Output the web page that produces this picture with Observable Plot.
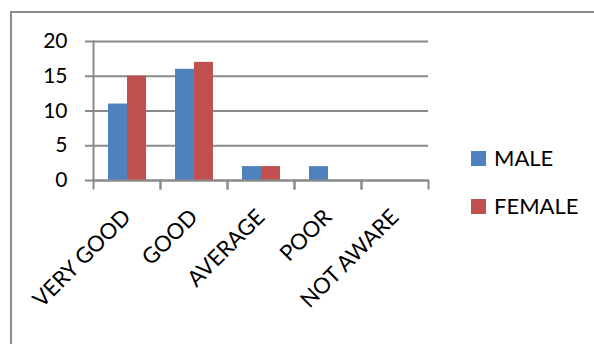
<!DOCTYPE html>
<html><head><meta charset="utf-8">
<script src="https://cdn.jsdelivr.net/npm/d3@7"></script>
<script src="https://cdn.jsdelivr.net/npm/@observablehq/plot@0.6"></script>
<style>
body{margin:0;background:#fff;}
#wrap{position:relative;width:594px;height:344px;overflow:hidden;font-family:Lato, sans-serif;}
#border{position:absolute;left:10px;top:11px;width:700px;height:500px;border-top:2px solid #8c8c8c;border-left:2px solid #8c8c8c;}
#chart{position:absolute;left:0;top:0;}
#legend{position:absolute;left:471px;top:0;}
.item{position:absolute;left:0;white-space:nowrap;display:flex;align-items:center;}
.sw{width:15px;height:15px;display:inline-block;margin-right:8px;}
.lab{font-size:22px;color:#000;line-height:22px;}
</style></head><body><div id="wrap"><div id="border"></div><div id="chart"></div><div id="legend"></div></div>
<script>
const categories = ["VERY GOOD","GOOD","AVERAGE","POOR","NOT AWARE"];
const series = ["MALE","FEMALE"];
const male = [11,16,2,2,0];
const female = [15,17,2,0,0];
const yTicks = [0,5,10,15,20];
const colors = ["#4F81BD","#C0504D"];

const data = categories.flatMap((c,i)=>[
  {cat:c, sex:series[0], v:male[i]},
  {cat:c, sex:series[1], v:female[i]}
]);

const gray = "#8a8a8a";
const plot = Plot.plot({
  width:594, height:344,
  marginLeft:92, marginRight:165, marginTop:41, marginBottom:164,
  style:{fontFamily:"Lato, sans-serif", fontSize:"21px", color:"#000", background:"transparent", overflow:"visible"},
  fx:{domain:categories, paddingInner:0, paddingOuter:0, label:null},
  x:{domain:series, paddingInner:0, paddingOuter:0.76, axis:null},
  y:{domain:[0,20], label:null},
  color:{domain:series, range:colors},
  marks:[
    Plot.gridY(yTicks, {stroke:gray, strokeOpacity:1, strokeWidth:2}),
    Plot.barY(data, {fx:"cat", x:"sex", y:"v", fill:"sex", inset:0}),
    Plot.ruleY([0], {stroke:gray, strokeWidth:2}),
    Plot.frame({anchor:"left", facet:"super", stroke:gray, strokeWidth:2}),
    Plot.frame({anchor:"left", insetTop:139, insetBottom:-8, stroke:gray, strokeWidth:2}),
    Plot.frame({anchor:"right", insetTop:139, insetBottom:-8, stroke:gray, strokeWidth:2}),
    Plot.axisY(yTicks, {tickSize:8, tickPadding:18, stroke:gray, strokeWidth:2, fill:"#000", fontSize:21, label:null}),
    Plot.axisFx({anchor:"bottom", tickRotate:-45, tickSize:0, tickPadding:33, fill:"#000", fontSize:22, label:null})
  ]
});
document.getElementById("chart").appendChild(plot);

const legend = document.getElementById("legend");
const rowTop = [147, 195];
series.forEach((s,i)=>{
  const it = document.createElement("div");
  it.className = "item";
  it.style.top = rowTop[i] + "px";
  it.innerHTML = `<span class="sw" style="background:${colors[i]}"></span><span class="lab">${s}</span>`;
  legend.appendChild(it);
});
</script>
</body></html>
